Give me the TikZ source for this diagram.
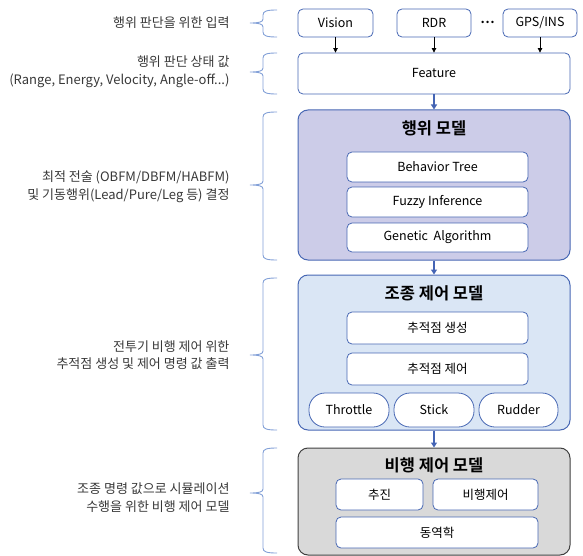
\documentclass[tikz,border=0pt]{standalone}
\usepackage{fontspec}
\setmainfont{Noto Sans CJK KR}[BoldFont={Noto Sans CJK KR Bold}]
\usetikzlibrary{arrows.meta}
\definecolor{boxline}{RGB}{72,104,180}
\definecolor{bracecol}{RGB}{130,160,215}
\definecolor{actfill}{RGB}{204,204,232}
\definecolor{ctlfill}{RGB}{218,230,245}
\definecolor{dynfill}{RGB}{217,217,217}
\definecolor{dynline}{RGB}{64,64,64}
\definecolor{flowcol}{RGB}{68,100,180}
% left brace: top, tip, bottom
\newcommand{\notebrace}[3]{%
  \draw[brc] (277,#1) .. controls (267,#1) and (263,#1+1) .. (263,#1+5)
    -- (263,#2-4) .. controls (263,#2-1) and (259,#2) .. (250,#2)
    .. controls (259,#2) and (263,#2+1) .. (263,#2+4)
    -- (263,#3-5) .. controls (263,#3-1) and (267,#3) .. (277,#3);}

\begin{document}
\begin{tikzpicture}[x=1pt,y=-1pt,
  inbox/.style={draw=boxline, fill=white, rounded corners=5pt, line width=0.8pt, inner sep=0pt, font=\fontsize{12.5}{14}\selectfont},
  pill/.style={inbox, rounded corners=16pt},
  group/.style={draw=boxline, rounded corners=10pt, line width=1pt},
  ttl/.style={font=\fontsize{16.5}{19}\selectfont\bfseries},
  note/.style={anchor=east, align=right, font=\fontsize{13}{17.5}\selectfont, text=black!78},
  brc/.style={draw=bracecol, line width=0.9pt},
  inarrow/.style={-{Triangle[length=4.5pt,width=4.5pt]}, line width=0.7pt},
  flow/.style={-{Triangle[length=5pt,width=6pt]}, draw=flowcol, line width=1.6pt}]
  \useasboundingbox (0,0) rectangle (583,556);
  % input sources
  \node (vis) at (335.5,23)[inbox, minimum width=75, minimum height=28]{Vision};
  \node (rdr) at (434,23)[inbox, minimum width=74, minimum height=28]{RDR};
  \node (dots) at (487.5,22.5){\fontsize{13}{13}\selectfont\bfseries ⋯};
  \node (gps) at (540,23)[inbox, minimum width=74, minimum height=28]{GPS/INS};
  \node (feat) at (434,73.5)[inbox, minimum width=272, minimum height=41]{Feature};
  % behaviour model
  \node (act) at (434,185)[group, fill=actfill, minimum width=272, minimum height=150]{};
  \node (actt) at (434,128)[ttl]{행위 모델};
  \node (bt) at (437.5,167)[inbox, minimum width=181, minimum height=30]{Behavior Tree};
  \node (fz) at (437.5,202)[inbox, minimum width=181, minimum height=30]{Fuzzy Inference};
  \node (ga) at (437.5,237.5)[inbox, minimum width=181, minimum height=29]{Genetic~~Algorithm};
  % maneuver control model
  \node (ctl) at (434,352.5)[group, fill=ctlfill, minimum width=272, minimum height=155]{};
  \node (ctlt) at (434,293)[ttl]{조종 제어 모델};
  \node (gen) at (437.5,328)[inbox, minimum width=181, minimum height=32]{추적점 생성};
  \node (trk) at (437.5,369)[inbox, minimum width=181, minimum height=32]{추적점 제어};
  \node (thr) at (349,410)[pill, minimum width=80, minimum height=34]{Throttle};
  \node (stk) at (434,410)[pill, minimum width=80, minimum height=34]{Stick};
  \node (rud) at (518.5,410)[pill, minimum width=79, minimum height=34]{Rudder};
  % flight control model
  \node (dyn) at (434,501.5)[group, draw=dynline, fill=dynfill, minimum width=272, minimum height=107]{};
  \node (dynt) at (434,465)[ttl]{비행 제어 모델};
  \node (prp) at (379.5,494.5)[inbox, minimum width=87, minimum height=31]{추진};
  \node (fcs) at (485.5,494.5)[inbox, minimum width=105, minimum height=31]{비행제어};
  \node (eom) at (437,532.5)[inbox, minimum width=202, minimum height=31]{동역학};
  % arrows
  \draw[inarrow] (vis.south) -- (vis.south |- feat.north);
  \draw[inarrow] (rdr.south) -- (rdr.south |- feat.north);
  \draw[inarrow] (gps.south) -- (gps.south |- feat.north);
  \draw[flow] (feat.south) -- (act.north);
  \draw[flow] (act.south) -- (ctl.north);
  \draw[flow] (ctl.south) -- (dyn.north);
  % braces and notes
  \notebrace{10}{23}{37}
  \notebrace{53}{72}{94}
  \notebrace{112}{185}{260}
  \notebrace{278}{355}{430}
  \notebrace{448}{493}{553}
  \node (n1) at (233,23)[note]{행위 판단을 위한 입력};
  \node (n2) at (233,72)[note]{행위 판단 상태 값\\(Range, Energy, Velocity, Angle-off...)};
  \node (n3) at (233,186.5)[note]{최적 전술 (OBFM/DBFM/HABFM)\\및 기동행위(Lead/Pure/Leg 등) 결정};
  \node (n4) at (233,355)[note]{전투기 비행 제어 위한\\추적점 생성 및 제어 명령 값 출력};
  \node (n5) at (233,497.5)[note]{조종 명령 값으로 시뮬레이션\\수행을 위한 비행 제어 모델};
\end{tikzpicture}
\end{document}
